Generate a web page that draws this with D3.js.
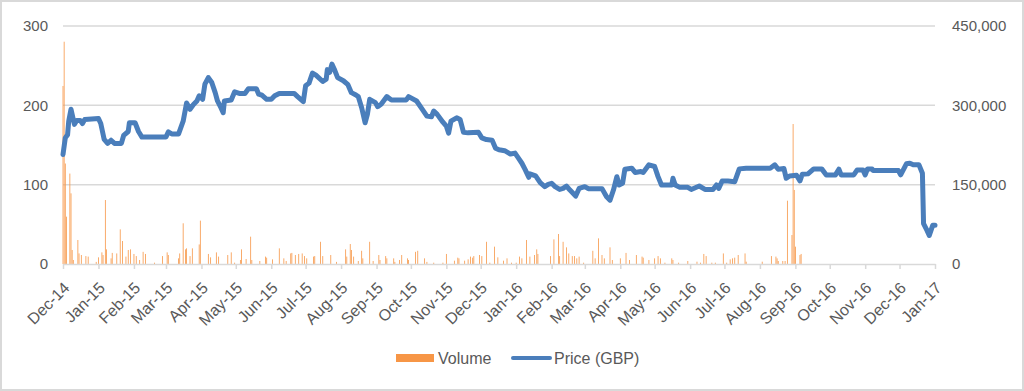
<!DOCTYPE html>
<html>
<head>
<meta charset="utf-8">
<script src="https://cdn.jsdelivr.net/npm/d3@7"></script>
<style>
  body { margin: 0; background: #fff; }
  svg { display: block; font-family: "Liberation Sans", Arial, sans-serif; }
</style>
</head>
<body>
<svg id="chart" width="1024" height="391"></svg>
<script>
// price (GBP), left axis
let priceDates = ["2014-12-01","2014-12-03","2014-12-05","2014-12-06","2014-12-08","2014-12-10","2014-12-11","2014-12-13","2014-12-16","2014-12-18","2014-12-20",
  "2015-01-01","2015-01-03","2015-01-06","2015-01-09","2015-01-12","2015-01-15","2015-01-21","2015-01-23","2015-01-27","2015-01-28",
  "2015-02-02","2015-02-05","2015-02-08","2015-03-01","2015-03-03","2015-03-06","2015-03-12","2015-03-16","2015-03-19","2015-03-22","2015-03-25","2015-03-28","2015-03-30",
  "2015-04-02","2015-04-04","2015-04-07","2015-04-10","2015-04-13","2015-04-15","2015-04-18","2015-04-20","2015-04-21","2015-04-27","2015-04-30",
  "2015-05-04","2015-05-09","2015-05-12","2015-05-19","2015-05-21","2015-05-24","2015-05-28","2015-06-01","2015-06-04","2015-06-08","2015-06-21","2015-06-24","2015-06-29",
  "2015-07-01","2015-07-04","2015-07-07","2015-07-10","2015-07-16","2015-07-19","2015-07-20","2015-07-22","2015-07-24","2015-07-26","2015-07-29",
  "2015-08-03","2015-08-07","2015-08-10","2015-08-14","2015-08-16","2015-08-19","2015-08-22","2015-08-24","2015-08-26","2015-08-31",
  "2015-09-02","2015-09-05","2015-09-10","2015-09-14","2015-09-27","2015-09-29","2015-10-06","2015-10-11","2015-10-15","2015-10-19","2015-10-21","2015-10-24","2015-10-29",
  "2015-11-01","2015-11-03","2015-11-05","2015-11-10","2015-11-13","2015-11-16","2015-11-20","2015-11-29","2015-12-02","2015-12-06","2015-12-11","2015-12-14","2015-12-17","2015-12-22","2015-12-27","2015-12-31",
  "2016-01-03","2016-01-06","2016-01-09","2016-01-12","2016-01-13","2016-01-18","2016-01-22","2016-01-26","2016-01-29",
  "2016-02-01","2016-02-04","2016-02-08","2016-02-11","2016-02-14","2016-02-17","2016-02-22","2016-02-25",
  "2016-03-01","2016-03-04","2016-03-16","2016-03-20","2016-03-23","2016-03-26","2016-03-29","2016-03-31",
  "2016-04-03","2016-04-05","2016-04-11","2016-04-14","2016-04-19","2016-04-21","2016-04-26",
  "2016-05-01","2016-05-04","2016-05-07","2016-05-16","2016-05-17","2016-05-19","2016-05-23","2016-05-30",
  "2016-06-02","2016-06-09","2016-06-14","2016-06-21","2016-06-24","2016-06-26","2016-06-29",
  "2016-07-04","2016-07-10","2016-07-14","2016-07-20","2016-08-10","2016-08-14","2016-08-17","2016-08-22","2016-08-24","2016-08-27",
  "2016-09-02","2016-09-05","2016-09-07","2016-09-12","2016-09-17","2016-09-24","2016-09-28",
  "2016-10-06","2016-10-09","2016-10-11","2016-10-22","2016-10-25","2016-10-30",
  "2016-11-01","2016-11-03","2016-11-07","2016-11-08","2016-11-30",
  "2016-12-02","2016-12-07","2016-12-10","2016-12-13","2016-12-18","2016-12-21","2016-12-22","2016-12-25","2016-12-27","2016-12-30","2017-01-01"];
let priceValues = [138,159,163,180,195,182,176,181,181,177,182,
  183.5,177,157,152,156,152,152,162,167,178,
  178,167,160,160,166.5,164,164,180,203,195,201,205.5,212,
  207.6,226.7,235,228.8,216,205.5,197,190.7,205.5,206.8,217,
  215,215,221,221,214,212.7,207.6,207.6,212,215,215,211,204.7,
  224.6,228,240.7,238,230,233,245,241.5,252,245.8,235,
  231,226,216,213,211,197,178,188.6,207.6,203.4,
  198.3,201.3,211,206.8,206.8,211,205.5,195,186.4,185.6,192.8,188.6,178.8,
  173.7,165,180,184.3,182.2,166,165.3,166,159,156.8,156,146,144,142.8,138.6,139.8,
  133.5,127,118.6,109.3,113.6,111,102.5,97.5,100.4,
  101.7,97.5,94,95.3,98.3,93.2,85.6,95.3,
  97.5,95,95,84.7,80.5,93.2,110,99.6,
  101.7,119.5,120.8,115.3,116.5,115.3,125,
  122.9,110.2,99.6,99.6,108,99.6,96.6,96.6,
  94,98.3,94,94,99.6,95.3,104.7,
  104.7,103.8,119.9,120.8,120.8,125,119.5,120.3,108,111,
  111.9,104.7,113.1,113.6,119.9,119.9,112.3,
  112.3,119.5,112.3,112.3,118.6,118.6,
  112.3,119.9,119.9,117.8,117.8,
  112.3,126.3,127.1,125,125,114.4,50.8,42.4,36,48.7,48.7];

// volume, right axis
let volumeDates = ["2014-12-01","2014-12-02","2014-12-03","2014-12-04","2014-12-07","2014-12-08","2014-12-09","2014-12-10","2014-12-14","2014-12-15","2014-12-17","2014-12-21","2014-12-23","2014-12-30",
  "2015-01-01","2015-01-04","2015-01-05","2015-01-07","2015-01-08","2015-01-12","2015-01-13","2015-01-17","2015-01-20","2015-01-22","2015-01-25","2015-01-27","2015-01-29",
  "2015-02-01","2015-02-03","2015-02-06","2015-02-09","2015-02-11","2015-02-19","2015-02-26",
  "2015-03-02","2015-03-03","2015-03-12","2015-03-13","2015-03-16","2015-03-18","2015-03-19","2015-03-22","2015-03-24","2015-03-30","2015-03-31",
  "2015-04-07","2015-04-09","2015-04-14","2015-04-16","2015-04-24","2015-04-27","2015-04-30",
  "2015-05-05","2015-05-06","2015-05-10","2015-05-14","2015-05-15","2015-05-22","2015-05-27","2015-05-28",
  "2015-06-02","2015-06-08","2015-06-12","2015-06-14","2015-06-18","2015-06-19","2015-06-22","2015-06-25","2015-06-28","2015-06-30",
  "2015-07-02","2015-07-08","2015-07-09","2015-07-14","2015-07-16","2015-07-23","2015-07-28",
  "2015-08-05","2015-08-06","2015-08-09","2015-08-10","2015-08-12","2015-08-16","2015-08-19","2015-08-20","2015-08-26","2015-08-29",
  "2015-09-03","2015-09-04","2015-09-09","2015-09-10","2015-09-16","2015-09-17","2015-09-21","2015-09-23","2015-09-28","2015-09-29",
  "2015-10-05","2015-10-07","2015-10-13","2015-10-15","2015-10-21","2015-10-29",
  "2015-11-01","2015-11-08","2015-11-11","2015-11-12","2015-11-17","2015-11-20","2015-11-22","2015-11-24","2015-11-25","2015-11-30",
  "2015-12-02","2015-12-06","2015-12-09","2015-12-13","2015-12-16","2015-12-21","2015-12-24","2015-12-28",
  "2016-01-01","2016-01-04","2016-01-06","2016-01-10","2016-01-13","2016-01-17","2016-01-19","2016-01-20","2016-01-31",
  "2016-02-03","2016-02-07","2016-02-08","2016-02-11","2016-02-14","2016-02-16","2016-02-19","2016-02-21","2016-02-23","2016-02-25","2016-02-29",
  "2016-03-08","2016-03-10","2016-03-13","2016-03-16","2016-03-18","2016-03-23","2016-03-25",
  "2016-04-01","2016-04-06","2016-04-09","2016-04-15","2016-04-20","2016-04-21","2016-04-26",
  "2016-05-01","2016-05-04","2016-05-06","2016-05-10","2016-05-16","2016-05-17","2016-05-22","2016-05-30",
  "2016-06-07","2016-06-10","2016-06-13","2016-06-15","2016-06-20","2016-06-23","2016-06-30",
  "2016-07-03","2016-07-06","2016-07-08","2016-07-10","2016-07-13","2016-07-19","2016-07-20",
  "2016-08-03","2016-08-11","2016-08-15","2016-08-16","2016-08-17","2016-08-21","2016-08-23","2016-08-25","2016-08-29","2016-08-30","2016-08-31",
  "2016-09-01","2016-09-05","2016-09-06"];
let volumeValues = [336600,420300,190000,89500,171000,133600,26500,7600,45400,20000,17000,15000,14000,4000,
  12600,22000,17000,121000,27700,10700,21000,20000,65500,43500,14000,26500,27700,
  19000,15000,7600,23000,19000,2500,15000,
  22000,17000,10700,20000,77000,27700,29600,15000,29600,37000,82000,
  19000,12600,22000,14000,17000,22000,2500,
  7600,27700,9500,51700,7600,5700,14000,12000,
  8800,29600,10700,5700,20000,21000,17000,19000,20000,15000,
  10700,14000,15000,42000,15000,17000,4000,
  27700,14000,37800,26500,14000,5700,25000,10700,42000,5700,
  17000,7600,15000,10700,10700,4000,7600,17000,10700,7600,
  23000,25000,10700,4000,2500,2500,
  19000,6300,12000,10700,6300,8800,14000,12000,15000,17000,
  15000,42000,2500,32800,12600,6300,10700,2500,
  2500,14000,10700,45400,14000,17000,27700,19000,15000,
  46600,56700,15000,42000,31500,20000,15000,15000,10700,14000,2500,
  25000,10700,48500,17000,10700,31500,7600,
  10700,21000,7600,17000,14000,12000,7600,
  10700,15000,10700,2500,10700,7600,2500,5700,
  4400,2500,19000,15000,2500,2500,20000,
  2500,8800,10700,12000,17000,20000,4400,
  4400,15000,14000,10700,5700,5700,5700,119700,54800,264700,140000,
  32800,17000,19000];

let leftTicks = [0, 100, 200, 300];
let rightTicks = [0, 150000, 300000, 450000];
let seriesNames = ["Volume", "Price (GBP)"];

let chart = d3.select("#chart");
let parse = d3.timeParse("%Y-%m-%d");
let grey = "#595959";

// frame
chart.append("rect")
  .attr("x", 1).attr("y", 1)
  .attr("width", 1022).attr("height", 389)
  .attr("fill", "#fff")
  .attr("stroke", "#d9d9d9")
  .attr("stroke-width", 2);

// scales
let x = d3.scaleTime()
  .domain([parse("2014-12-01"), parse("2017-01-01")])
  .range([63, 935]);
let yL = d3.scaleLinear().domain([0, 300]).range([264, 26]);
let yR = d3.scaleLinear().domain([0, 450000]).range([264, 26]);

// gridlines
chart.append("g")
  .selectAll("line")
  .data(leftTicks.slice(1))
  .enter()
  .append("line")
  .attr("x1", 63).attr("x2", 935)
  .attr("y1", d => yL(d)).attr("y2", d => yL(d))
  .attr("stroke", "#d9d9d9")
  .attr("stroke-width", 1.5);

// left axis labels
let leftAxis = chart.append("g")
  .attr("transform", "translate(48,0)")
  .call(d3.axisLeft(yL).tickValues(leftTicks).tickSize(0).tickPadding(0));
leftAxis.select(".domain").remove();
leftAxis.selectAll("text").attr("fill", grey).style("font-size", "15px");

// right axis labels
let rightAxis = chart.append("g")
  .attr("transform", "translate(952,0)")
  .call(d3.axisRight(yR).tickValues(rightTicks).tickSize(0).tickPadding(0).tickFormat(d3.format(",")));
rightAxis.select(".domain").remove();
rightAxis.selectAll("text").attr("fill", grey).style("font-size", "15px");

// volume bars
let bw = 0.8;
chart.append("g")
  .selectAll("rect")
  .data(volumeDates)
  .enter()
  .append("rect")
  .attr("x", d => x(parse(d)) - bw / 2)
  .attr("y", (d, i) => yR(volumeValues[i]))
  .attr("width", bw)
  .attr("height", (d, i) => 264 - yR(volumeValues[i]))
  .attr("fill", "#f79646");

// x axis
let xAxis = chart.append("g")
  .attr("transform", "translate(0,264)")
  .call(d3.axisBottom(x).ticks(d3.timeMonth.every(1)).tickFormat(d3.timeFormat("%b-%y")).tickSize(5).tickSizeOuter(0));
xAxis.select(".domain").attr("stroke", "#d9d9d9").attr("stroke-width", 1.5);
xAxis.selectAll(".tick line").attr("stroke", "#d9d9d9").attr("stroke-width", 1.5);
xAxis.selectAll("text")
  .attr("fill", grey)
  .style("font-size", "16px")
  .attr("text-anchor", "end")
  .attr("x", 0).attr("y", 0).attr("dy", "0.35em")
  .attr("transform", "translate(3,21) rotate(-45)");

// price line
let line = d3.line()
  .x((d, i) => x(parse(d)))
  .y((d, i) => yL(priceValues[i]));
chart.append("path")
  .datum(priceDates)
  .attr("d", line)
  .attr("fill", "none")
  .attr("stroke", "#4a7ebb")
  .attr("stroke-width", 5)
  .attr("stroke-linejoin", "round")
  .attr("stroke-linecap", "round");

// legend
chart.append("rect")
  .attr("x", 396).attr("y", 354)
  .attr("width", 38).attr("height", 8)
  .attr("fill", "#f79646");
chart.append("text")
  .text(seriesNames[0])
  .attr("x", 438).attr("y", 358)
  .attr("dy", "0.35em")
  .attr("fill", grey)
  .style("font-size", "16px");
chart.append("line")
  .attr("x1", 513).attr("x2", 550)
  .attr("y1", 358).attr("y2", 358)
  .attr("stroke", "#4a7ebb")
  .attr("stroke-width", 4)
  .attr("stroke-linecap", "round");
chart.append("text")
  .text(seriesNames[1])
  .attr("x", 554).attr("y", 358)
  .attr("dy", "0.35em")
  .attr("fill", grey)
  .style("font-size", "16px");
</script>
</body>
</html>
